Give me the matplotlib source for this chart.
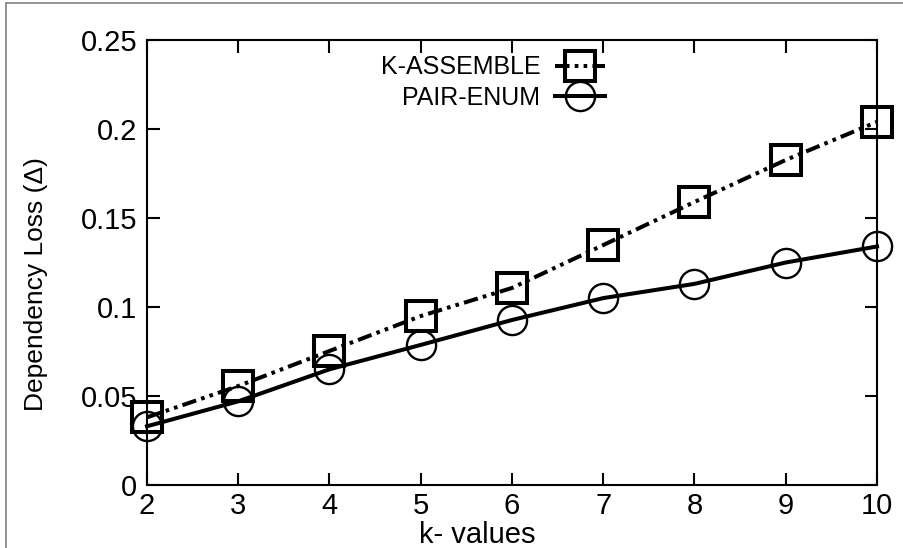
"""Dependency loss vs k for K-ASSEMBLE and PAIR-ENUM."""

import matplotlib
matplotlib.use("Agg")
import matplotlib.pyplot as plt  # noqa: E402
from matplotlib.patches import Rectangle  # noqa: E402

k_values = [2, 3, 4, 5, 6, 7, 8, 9, 10]
k_assemble = [0.038, 0.0556, 0.0753, 0.0949, 0.1107, 0.1348, 0.159, 0.1826, 0.204]
pair_enum = [0.033, 0.047, 0.065, 0.0787, 0.0927, 0.105, 0.113, 0.125, 0.134]
y_ticks = [0, 0.05, 0.1, 0.15, 0.2, 0.25]
y_tick_labels = ["0", "0.05", "0.1", "0.15", "0.2", "0.25"]

plt.rcParams["font.family"] = ["Liberation Sans", "DejaVu Sans"]

fig = plt.figure(figsize=(9.04, 5.48), dpi=100)
ax = fig.add_axes([147 / 904, 1 - 485 / 548, 730 / 904, 445 / 548])

ax.plot(k_values, k_assemble, color="black", lw=2.9, dashes=(3.6, 1.3, 0.9, 1.3, 0.9, 1.3),
        dash_capstyle="butt", marker="s", markersize=21, mew=2.9,
        fillstyle="none", label="K-ASSEMBLE", clip_on=False)
ax.plot(k_values, pair_enum, color="black", lw=2.9, marker="o", markersize=21, mew=1.7,
        fillstyle="none", label="PAIR-ENUM", clip_on=False)

ax.set_xlim(2, 10)
ax.set_ylim(0, 0.25)
ax.set_xticks(k_values)
ax.set_xticklabels([str(k) for k in k_values], fontsize=21)
ax.set_yticks(y_ticks)
ax.set_yticklabels(y_tick_labels, fontsize=21)
ax.tick_params(direction="in", length=9, width=1.5, top=True, right=True)
ax.tick_params(axis="x", pad=5)
ax.tick_params(axis="y", pad=7)
for spine in ax.spines.values():
    spine.set_linewidth(1.5)

ax.set_xlabel("k- values", fontsize=21)
ax.xaxis.set_label_coords(0.453, -0.08)
ax.set_ylabel("Dependency Loss (\u0394)", fontsize=19)
ax.yaxis.set_label_coords(-0.136, 0.452)

ax.legend(loc="upper right", bbox_to_anchor=(0.652, 1.005), frameon=False, markerfirst=False,
          fontsize=18, handlelength=2.0, handletextpad=0.6, labelspacing=0.25, borderpad=0.2)

fig.patches.append(Rectangle((6 / 904, -0.1), 1.2, 1.1 - 3 / 548, transform=fig.transFigure,
                             fill=False, edgecolor="#808080", lw=1.2))

fig.savefig("out.png", dpi=100)
